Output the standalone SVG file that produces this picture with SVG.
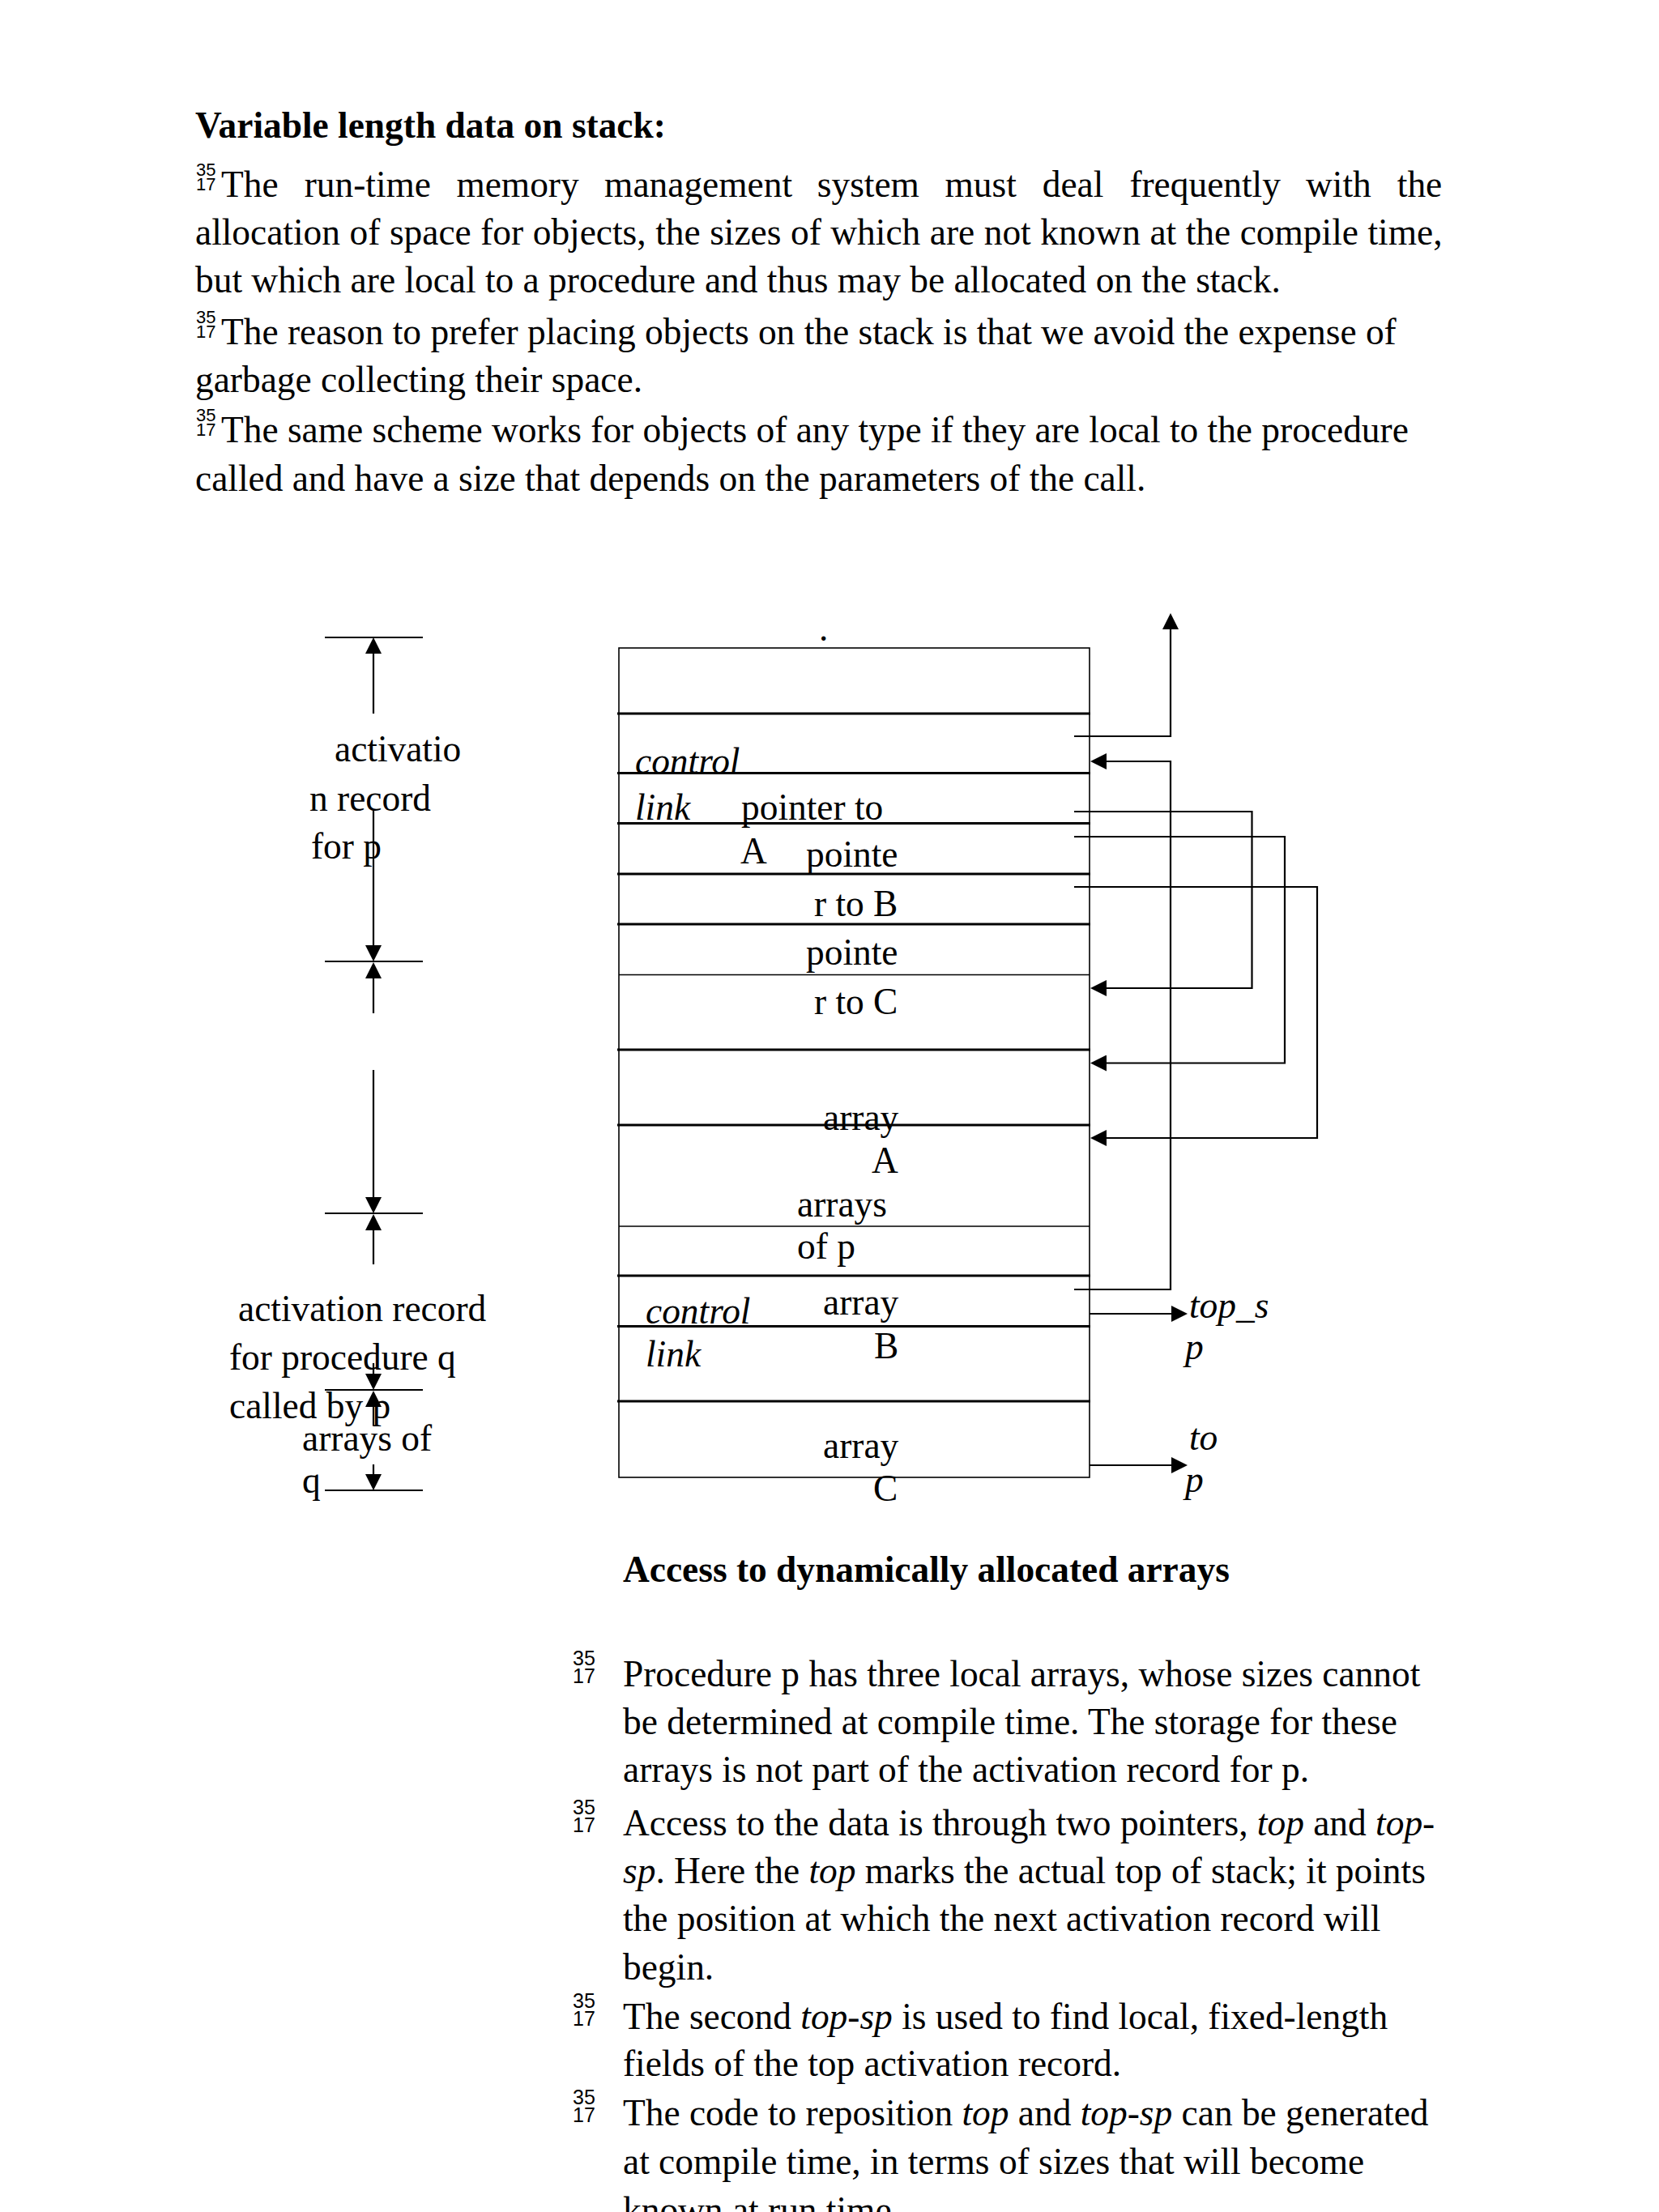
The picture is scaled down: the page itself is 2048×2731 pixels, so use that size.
<svg xmlns="http://www.w3.org/2000/svg" width="2048" height="2731" viewBox="0 0 2048 2731">
<style>
  .t { font-family: "Liberation Serif", "Times New Roman", serif; font-size: 45.4px; fill: #000; }
  .b { font-weight: bold; }
  .i { font-style: italic; }
  .sup { font-family: "Liberation Sans", Arial, sans-serif; font-size: 22px; fill: #000; }
  .sup2 { font-family: "Liberation Sans", Arial, sans-serif; font-size: 25px; fill: #000; }
  .box { fill: none; stroke: #000; stroke-width: 1.6; }
  .thick { stroke: #000; stroke-width: 2.8; fill: none; }
  .thin { stroke: #000; stroke-width: 1.6; fill: none; }
  .con { stroke: #000; stroke-width: 2.2; fill: none; }
  .dim { stroke: #000; stroke-width: 2.2; fill: none; }
  .arr { marker-end: url(#ah); }
</style>
<defs>
  <marker id="ah" viewBox="0 0 10 10" markerUnits="userSpaceOnUse" markerWidth="20" markerHeight="20" refX="7.5" refY="5" orient="auto">
    <path d="M0,0 L10,5 L0,10 z" fill="#000"/>
  </marker>
</defs>
<rect width="2048" height="2731" fill="#fff"/>

<g id="title">
  <text class="t b" x="241" y="170">Variable length data on stack:</text>
</g>

<g id="para-top">
  <text class="sup" x="242" y="217">35</text>
  <text class="sup" x="242" y="235">17</text>
  <text class="t" y="243"><tspan x="273">The</tspan><tspan x="375.7">run-time</tspan><tspan x="563.4">memory</tspan><tspan x="746.1">management</tspan><tspan x="1008.8">system</tspan><tspan x="1166.5">must</tspan><tspan x="1286.7">deal</tspan><tspan x="1394.4">frequently</tspan><tspan x="1612">with</tspan><tspan x="1724.8">the</tspan></text>
  <text class="t" x="241" y="302" word-spacing="0.2">allocation of space for objects, the sizes of which are not known at the compile time,</text>
  <text class="t" x="241" y="361">but which are local to a procedure and thus may be allocated on the stack.</text>
  <text class="sup" x="242" y="399">35</text>
  <text class="sup" x="242" y="417">17</text>
  <text class="t" x="273" y="425">The reason to prefer placing objects on the stack is that we avoid the expense of</text>
  <text class="t" x="241" y="484">garbage collecting their space.</text>
  <text class="sup" x="242" y="520">35</text>
  <text class="sup" x="242" y="538">17</text>
  <text class="t" x="273" y="546">The same scheme works for objects of any type if they are local to the procedure</text>
  <text class="t" x="241" y="606">called and have a size that depends on the parameters of the call.</text>
</g>

<g id="dimensions">
  <line class="dim" x1="401" y1="787" x2="522" y2="787"/>
  <line class="dim arr" x1="461" y1="881" x2="461" y2="792"/>
  <line class="dim arr" x1="461" y1="1001" x2="461" y2="1182"/>
  <line class="dim" x1="401" y1="1187" x2="522" y2="1187"/>
  <line class="dim arr" x1="461" y1="1251" x2="461" y2="1193"/>

  <line class="dim arr" x1="461" y1="1321" x2="461" y2="1493"/>
  <line class="dim" x1="401" y1="1498" x2="522" y2="1498"/>
  <line class="dim arr" x1="461" y1="1561" x2="461" y2="1504"/>

  <line class="dim arr" x1="461" y1="1683" x2="461" y2="1711"/>
  <line class="dim" x1="401" y1="1716" x2="522" y2="1716"/>
  <line class="dim arr" x1="461" y1="1760" x2="461" y2="1722"/>
  <line class="dim arr" x1="461" y1="1808" x2="461" y2="1835"/>
  <line class="dim" x1="401" y1="1840" x2="522" y2="1840"/>
</g>

<g id="labels-left">
  <text class="t" x="413" y="940">activatio</text>
  <text class="t" x="382" y="1001">n record</text>
  <text class="t" x="384" y="1060">for p</text>
  <text class="t" x="294" y="1631">activation record</text>
  <text class="t" x="283" y="1691">for procedure q</text>
  <text class="t" x="283" y="1751">called by p</text>
  <text class="t" x="373" y="1791">arrays of</text>
  <text class="t" x="373" y="1843">q</text>
</g>

<g id="stack">
  <rect class="box" x="764" y="800" width="581" height="1024"/>
  <line class="thick" x1="762" y1="881" x2="1346" y2="881"/>
  <line class="thick" x1="762" y1="954.5" x2="1346" y2="954.5"/>
  <line class="thick" x1="762" y1="1016.5" x2="1346" y2="1016.5"/>
  <line class="thick" x1="762" y1="1079" x2="1346" y2="1079"/>
  <line class="thick" x1="762" y1="1141" x2="1346" y2="1141"/>
  <line class="thin" x1="764" y1="1203.5" x2="1345" y2="1203.5"/>
  <line class="thick" x1="762" y1="1296" x2="1346" y2="1296"/>
  <line class="thick" x1="762" y1="1389" x2="1346" y2="1389"/>
  <line class="thin" x1="764" y1="1514" x2="1345" y2="1514"/>
  <line class="thick" x1="762" y1="1575" x2="1346" y2="1575"/>
  <line class="thick" x1="762" y1="1637.5" x2="1346" y2="1637.5"/>
  <line class="thick" x1="762" y1="1730" x2="1346" y2="1730"/>
  <text class="t" x="1011" y="791" font-size="40">.</text>
</g>

<g id="cell-p-record">
  <text class="t i" x="784" y="955">control</text>
  <text class="t i" x="784" y="1012">link</text>
  <text class="t" x="915" y="1012">pointer to</text>
  <text class="t" x="914" y="1066">A</text>
  <text class="t" x="995" y="1070">pointe</text>
  <text class="t" x="1005" y="1131">r to B</text>
  <text class="t" x="995" y="1191">pointe</text>
  <text class="t" x="1005" y="1252">r to C</text>
</g>

<g id="cell-arrays-p">
  <text class="t" x="1016" y="1395">array</text>
  <text class="t" x="1076" y="1448">A</text>
  <text class="t" x="984" y="1502">arrays</text>
  <text class="t" x="984" y="1554">of p</text>
</g>

<g id="cell-q-record">
  <text class="t" x="1016" y="1623">array</text>
  <text class="t i" x="797" y="1634">control</text>
  <text class="t" x="1079" y="1677">B</text>
  <text class="t i" x="797" y="1687">link</text>
  <text class="t" x="1016" y="1800">array</text>
  <text class="t" x="1078" y="1853">C</text>
</g>

<g id="pointer-labels">
  <text class="t i" x="1468" y="1627">top_s</text>
  <text class="t i" x="1463" y="1678">p</text>
  <text class="t i" x="1468" y="1790">to</text>
  <text class="t i" x="1463" y="1842">p</text>
</g>

<g id="connectors">
  <polyline class="con arr" points="1326,909 1445,909 1445,762"/>
  <polyline class="con arr" points="1326,1592 1445,1592 1445,940 1351,940"/>
  <polyline class="con arr" points="1326,1002 1545.5,1002 1545.5,1220 1351,1220"/>
  <polyline class="con arr" points="1326,1033 1586,1033 1586,1312.5 1351,1312.5"/>
  <polyline class="con arr" points="1326,1095 1626,1095 1626,1405 1351,1405"/>
  <line class="con arr" x1="1345" y1="1622" x2="1461" y2="1622"/>
  <line class="con arr" x1="1345" y1="1809" x2="1461" y2="1809"/>
</g>

<g id="caption">
  <text class="t b" x="769" y="1953" font-size="48.3">Access to dynamically allocated arrays</text>
</g>

<g id="para-bottom">
  <text class="sup2" x="707" y="2056">35</text>
  <text class="sup2" x="707" y="2078">17</text>
  <text class="t" x="769" y="2082">Procedure p has three local arrays, whose sizes cannot</text>
  <text class="t" x="769" y="2141">be determined at compile time. The storage for these</text>
  <text class="t" x="769" y="2200">arrays is not part of the activation record for p.</text>
  <text class="sup2" x="707" y="2240">35</text>
  <text class="sup2" x="707" y="2262">17</text>
  <text class="t" x="769" y="2266">Access to the data is through two pointers, <tspan class="i">top</tspan> and <tspan class="i">top-</tspan></text>
  <text class="t" x="769" y="2325"><tspan class="i">sp</tspan>. Here the <tspan class="i">top</tspan> marks the actual top of stack; it points</text>
  <text class="t" x="769" y="2384">the position at which the next activation record will</text>
  <text class="t" x="769" y="2444">begin.</text>
  <text class="sup2" x="707" y="2479">35</text>
  <text class="sup2" x="707" y="2501">17</text>
  <text class="t" x="769" y="2505">The second <tspan class="i">top-sp</tspan> is used to find local, fixed-length</text>
  <text class="t" x="769" y="2563">fields of the top activation record.</text>
  <text class="sup2" x="707" y="2598">35</text>
  <text class="sup2" x="707" y="2620">17</text>
  <text class="t" x="769" y="2624">The code to reposition <tspan class="i">top</tspan> and <tspan class="i">top-sp</tspan> can be generated</text>
  <text class="t" x="769" y="2684">at compile time, in terms of sizes that will become</text>
  <text class="t" x="769" y="2744">known at run time.</text>
</g>
</svg>
